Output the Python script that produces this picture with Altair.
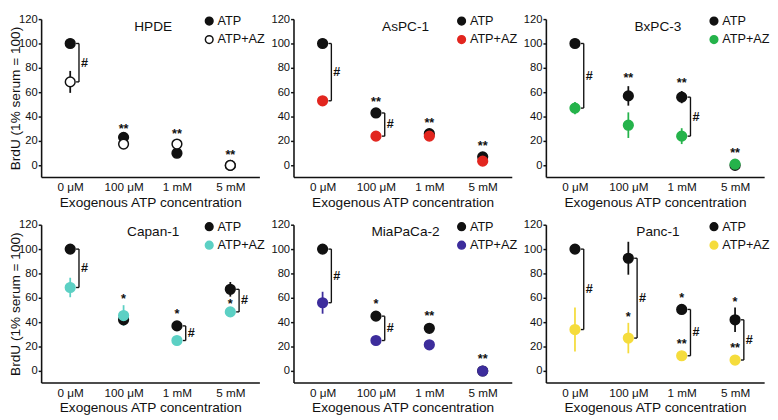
import altair as alt
import pandas as pd

cats = ["0 μM", "100 μM", "1 mM", "5 mM"]
series = ["ATP", "ATP+AZ"]

# ---- HPDE ----
hpde_atp = [100, 23, 10, 0]
hpde_atp_err = [1.5, 1.5, 1.5, 0]
hpde_az = [68.5, 17.5, 17.5, 0]
hpde_az_err = [9, 1.5, 1.5, 0]
hpde_star_cat = ["100 μM", "1 mM", "5 mM"]
hpde_star_y = [32, 28, 11]
hpde_star_txt = ["**", "**", "**"]
hpde_br_cat = ["0 μM"]
hpde_br_lo = [68.5]
hpde_br_hi = [100]

# ---- AsPC-1 ----
aspc_atp = [100, 43, 26, 7]
aspc_atp_err = [1, 2, 2, 1]
aspc_az = [53, 24, 24, 3.5]
aspc_az_err = [1, 1, 2, 1]
aspc_star_cat = ["100 μM", "1 mM", "5 mM"]
aspc_star_y = [54.5, 37.5, 18.5]
aspc_star_txt = ["**", "**", "**"]
aspc_br_cat = ["0 μM", "100 μM"]
aspc_br_lo = [53, 24]
aspc_br_hi = [100, 43]

# ---- BxPC-3 ----
bxpc_atp = [100, 57, 56, 0]
bxpc_atp_err = [1, 8, 5, 0]
bxpc_az = [47, 33, 24, 1]
bxpc_az_err = [5, 10.5, 6.5, 1]
bxpc_star_cat = ["100 μM", "1 mM", "5 mM"]
bxpc_star_y = [74, 70, 12.5]
bxpc_star_txt = ["**", "**", "**"]
bxpc_br_cat = ["0 μM", "1 mM"]
bxpc_br_lo = [47, 24]
bxpc_br_hi = [100, 56]

# ---- Capan-1 ----
capan_atp = [100, 42, 37, 67]
capan_atp_err = [1, 2, 2, 6]
capan_az = [68.5, 45.5, 25, 48.5]
capan_az_err = [8, 8.5, 1, 1]
capan_star_cat = ["100 μM", "1 mM", "5 mM"]
capan_star_y = [61, 49, 57.5]
capan_star_txt = ["*", "*", "*"]
capan_br_cat = ["0 μM", "1 mM", "5 mM"]
capan_br_lo = [68.5, 25, 48.5]
capan_br_hi = [100, 37, 67]

# ---- MiaPaCa-2 ----
mia_atp = [100, 45, 35, 0]
mia_atp_err = [1, 1, 1, 0]
mia_az = [56, 25, 21.5, 0]
mia_az_err = [9, 1, 1, 0]
mia_star_cat = ["100 μM", "1 mM", "5 mM"]
mia_star_y = [57.5, 47.5, 12]
mia_star_txt = ["*", "**", "**"]
mia_br_cat = ["0 μM", "100 μM"]
mia_br_lo = [56, 25]
mia_br_hi = [100, 45]

# ---- Panc-1 ----
panc_atp = [100, 92.5, 50.5, 42]
panc_atp_err = [1, 13.5, 3.5, 10]
panc_az = [34, 27, 12.5, 9]
panc_az_err = [18, 12.5, 2, 1]
panc_star_cat = ["100 μM", "1 mM", "1 mM", "5 mM", "5 mM"]
panc_star_y = [46.5, 62, 24.5, 59, 21]
panc_star_txt = ["*", "*", "**", "*", "**"]
panc_br_cat = ["0 μM", "100 μM", "1 mM", "5 mM"]
panc_br_lo = [34, 27, 12.5, 9]
panc_br_hi = [100, 92.5, 50.5, 42]

FONT = "Liberation Sans"
BLACK = "#111111"
W, H = 224, 162
ydomain = [-9.5, 120]


def make_panel(name, atp, atp_err, az, az_err, fill2, stroke2,
               star_cat, star_y, star_txt, br_cat, br_lo, br_hi, ytitle):
    rows = []
    for s, m, e in [("ATP", atp, atp_err), ("ATP+AZ", az, az_err)]:
        for c, v, err in zip(cats, m, e):
            rows.append(dict(cat=c, series=s, mean=v, lo=v - err, hi=v + err))
    df = pd.DataFrame(rows)
    stars = pd.DataFrame(dict(cat=star_cat, y=star_y, txt=star_txt))
    br = pd.DataFrame(dict(cat=br_cat, lo=br_lo, hi=br_hi))
    br["mid"] = (br["lo"] + br["hi"]) / 2
    br["sig"] = "#"

    xscale = alt.Scale(type="point", padding=0.545)
    xaxis = alt.Axis(title="Exogenous ATP concentration", labelAngle=0, ticks=False,
                     labelFontSize=12, titleFontSize=14, labelPadding=5, titlePadding=3,
                     titleFontWeight="normal", domainColor=BLACK, domainWidth=1.6,
                     labelColor=BLACK, titleColor=BLACK)
    x = alt.X("cat:N", sort=cats, scale=xscale, axis=xaxis)
    yscale = alt.Scale(domain=ydomain, nice=False, zero=False)
    yaxis = alt.Axis(values=[0, 20, 40, 60, 80, 100, 120], title=ytitle, grid=False,
                     labelFontSize=11.5, titleFontSize=14, tickSize=3, labelPadding=1,
                     titlePadding=-4, titleFontWeight="normal", domainColor=BLACK,
                     domainWidth=1.6, tickColor=BLACK, tickWidth=1.5,
                     labelColor=BLACK, titleColor=BLACK)

    def Y(field):
        return alt.Y(field, scale=yscale, axis=yaxis)

    base = alt.Chart(df)
    err_atp = base.transform_filter("datum.series == 'ATP' && datum.hi > datum.lo").mark_rule(
        strokeWidth=1.8, color=BLACK).encode(x=x, y=Y("lo:Q"), y2="hi:Q")
    err_az = base.transform_filter("datum.series == 'ATP+AZ' && datum.hi > datum.lo").mark_rule(
        strokeWidth=1.8, color=stroke2).encode(x=x, y=Y("lo:Q"), y2="hi:Q")

    leg = dict(orient="none", legendX=166, legendY=-4.5, title=None, symbolSize=62,
               symbolStrokeWidth=1.5, labelFontSize=13, labelFont=FONT, rowPadding=4,
               labelOffset=2, padding=0, labelColor=BLACK)
    pts = base.mark_point(shape="circle", filled=True, opacity=1, size=100,
                          strokeWidth=1.5).encode(
        x=x, y=Y("mean:Q"),
        fill=alt.Fill("series:N", scale=alt.Scale(domain=series, range=[BLACK, fill2]),
                      legend=alt.Legend(**leg)),
        stroke=alt.Stroke("series:N", scale=alt.Scale(domain=series, range=[BLACK, stroke2]),
                          legend=alt.Legend(**leg)),
    )

    bbase = alt.Chart(br)
    br_v = bbase.mark_rule(xOffset=9, strokeWidth=1.4, color=BLACK).encode(
        x=x, y=Y("lo:Q"), y2="hi:Q")
    br_t1 = bbase.mark_tick(xOffset=7.5, size=3, thickness=1.4, color=BLACK, opacity=1).encode(
        x=x, y=Y("lo:Q"))
    br_t2 = bbase.mark_tick(xOffset=7.5, size=3, thickness=1.4, color=BLACK, opacity=1).encode(
        x=x, y=Y("hi:Q"))
    br_txt = bbase.mark_text(dx=11, align="left", baseline="middle", fontSize=13,
                             fontWeight="bold", color=BLACK).encode(
        x=x, y=Y("mid:Q"), text="sig:N")

    star_layer = alt.Chart(stars).mark_text(fontSize=13, fontWeight="bold", baseline="alphabetic",
                                            dy=7, color=BLACK).encode(
        x=x, y=Y("y:Q"), text="txt:N")

    title_layer = alt.Chart(pd.DataFrame(dict(t=[name]))).mark_text(
        fontSize=14, align="center", baseline="middle", color=BLACK).encode(
        x=alt.value(115), y=alt.value(8), text="t:N")

    return alt.layer(err_atp, err_az, br_v, br_t1, br_t2, br_txt, pts, star_layer,
                     title_layer).properties(width=W, height=H)


YT = "BrdU  (1% serum = 100)"
p1 = make_panel("HPDE", hpde_atp, hpde_atp_err, hpde_az, hpde_az_err, "#ffffff", BLACK,
                hpde_star_cat, hpde_star_y, hpde_star_txt, hpde_br_cat, hpde_br_lo, hpde_br_hi, YT)
p2 = make_panel("AsPC-1", aspc_atp, aspc_atp_err, aspc_az, aspc_az_err, "#e2261f", "#e2261f",
                aspc_star_cat, aspc_star_y, aspc_star_txt, aspc_br_cat, aspc_br_lo, aspc_br_hi, None)
p3 = make_panel("BxPC-3", bxpc_atp, bxpc_atp_err, bxpc_az, bxpc_az_err, "#25b34b", "#25b34b",
                bxpc_star_cat, bxpc_star_y, bxpc_star_txt, bxpc_br_cat, bxpc_br_lo, bxpc_br_hi, None)
p4 = make_panel("Capan-1", capan_atp, capan_atp_err, capan_az, capan_az_err, "#5cd0c4", "#5cd0c4",
                capan_star_cat, capan_star_y, capan_star_txt, capan_br_cat, capan_br_lo, capan_br_hi, YT)
p5 = make_panel("MiaPaCa-2", mia_atp, mia_atp_err, mia_az, mia_az_err, "#3d2d9c", "#3d2d9c",
                mia_star_cat, mia_star_y, mia_star_txt, mia_br_cat, mia_br_lo, mia_br_hi, None)
p6 = make_panel("Panc-1", panc_atp, panc_atp_err, panc_az, panc_az_err, "#f5dc3c", "#f5dc3c",
                panc_star_cat, panc_star_y, panc_star_txt, panc_br_cat, panc_br_lo, panc_br_hi, None)

ind = dict(fill="independent", stroke="independent")
row1 = alt.hconcat(p1, p2, p3, spacing=5).resolve_scale(**ind).resolve_legend(**ind)
row2 = alt.hconcat(p4, p5, p6, spacing=5).resolve_scale(**ind).resolve_legend(**ind)
chart = alt.vconcat(row1, row2, spacing=10).resolve_scale(**ind).resolve_legend(**ind).properties(
    padding=0
).configure(font=FONT, background="white").configure_view(stroke=None)

chart.save("out.html", embed_options={"renderer": "svg", "actions": False})
